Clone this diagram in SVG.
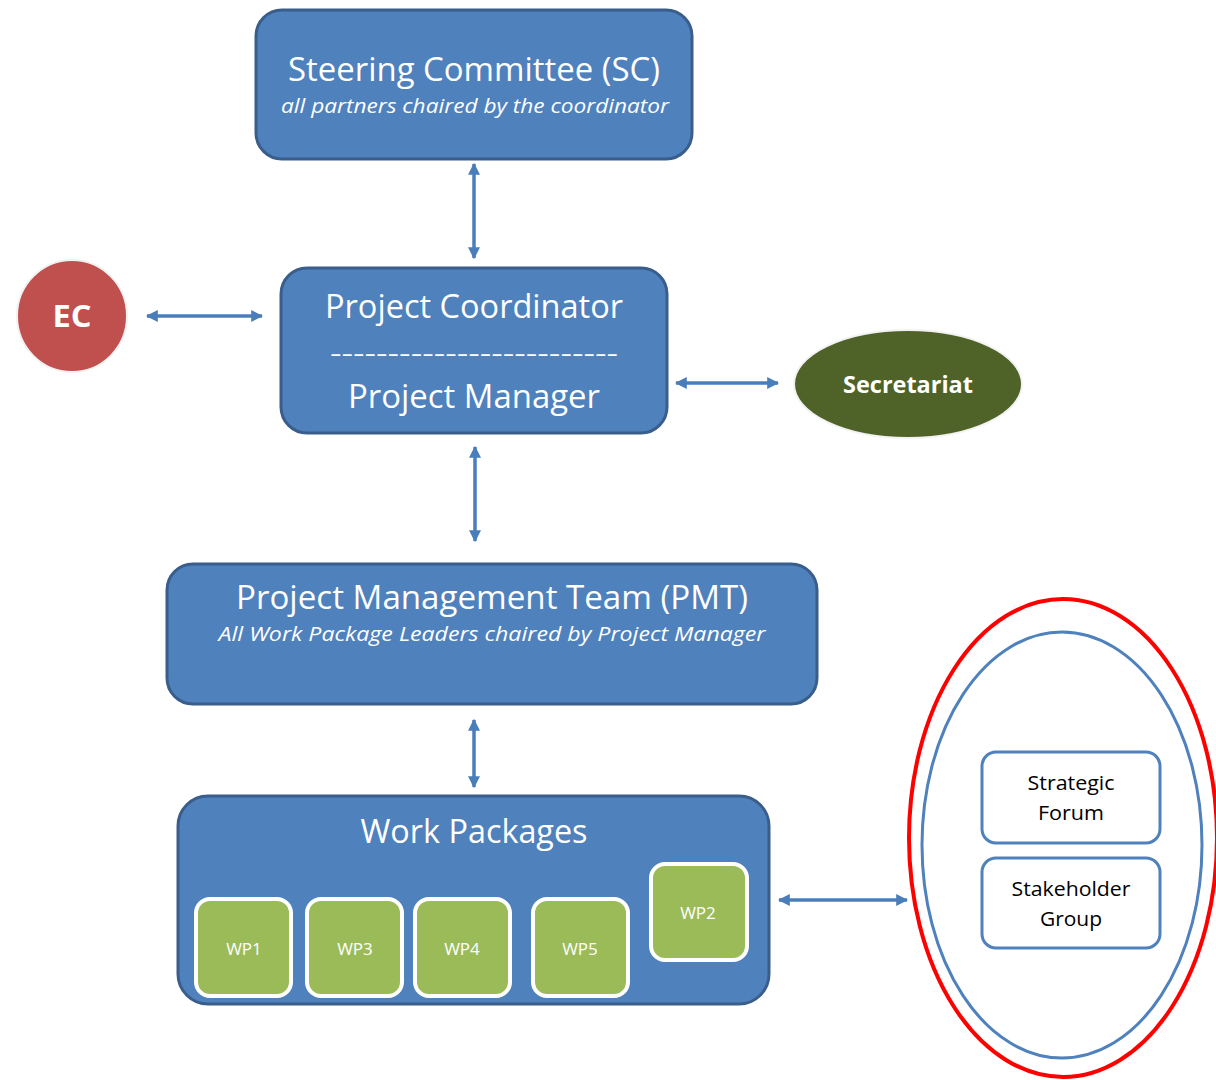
<svg xmlns="http://www.w3.org/2000/svg" width="1216" height="1080" viewBox="0 0 1216 1080">
<defs>
<marker id="ah" viewBox="0 0 10 10" refX="9" refY="5" markerWidth="12" markerHeight="12" markerUnits="userSpaceOnUse" orient="auto-start-reverse">
<path d="M0,0 L10,5 L0,10 Z" fill="#4A7EBB"/>
</marker>
</defs>
<style>
.box{fill:#4F81BD;stroke:#3A5E8C;stroke-width:3}
.wp{fill:#9BBB59;stroke:#FFFFFF;stroke-width:4}
.t{font-family:"Open Sans","Noto Sans","Liberation Sans",sans-serif;fill:#FFFFFF;text-anchor:middle}
.ti{font-family:"Open Sans","Noto Sans","Liberation Sans",sans-serif;fill:#FFFFFF;text-anchor:middle;font-style:italic}
.k{font-family:"Open Sans","Noto Sans","Liberation Sans",sans-serif;fill:#000000;text-anchor:middle;font-size:20px}
.c{stroke:#4A7EBB;stroke-width:3.5;fill:none;marker-start:url(#ah);marker-end:url(#ah)}
.sb{fill:#FFFFFF;stroke:#4F81BD;stroke-width:3}
</style>
<rect width="1216" height="1080" fill="#FFFFFF"/>

<g id="connectors">
<line class="c" x1="474" y1="164" x2="474" y2="258"/>
<line class="c" x1="147" y1="316" x2="262" y2="316"/>
<line class="c" x1="676" y1="383" x2="778" y2="383"/>
<line class="c" x1="475" y1="447" x2="475" y2="541"/>
<line class="c" x1="474" y1="720" x2="474" y2="787"/>
<line class="c" x1="779" y1="900" x2="907" y2="900"/>
</g>

<g id="steering-committee">
<rect class="box" x="256" y="10" width="436" height="149" rx="26"/>
<text class="t" x="474" y="81" font-size="32" textLength="372" lengthAdjust="spacingAndGlyphs">Steering Committee (SC)</text>
<text class="ti" x="475" y="113" font-size="20" textLength="388" lengthAdjust="spacingAndGlyphs">all partners chaired by the coordinator</text>
</g>

<g id="ec">
<ellipse cx="72" cy="316" rx="55" ry="56" fill="#C0504D" stroke="#F2F2F2" stroke-width="2"/>
<text class="t" x="72" y="327" font-size="30" font-weight="bold" textLength="39" lengthAdjust="spacingAndGlyphs">EC</text>
</g>

<g id="project-coordinator">
<rect class="box" x="281" y="268" width="386" height="165" rx="26"/>
<text class="t" x="474" y="318" font-size="32" textLength="298" lengthAdjust="spacingAndGlyphs">Project Coordinator</text>
<text class="t" x="474" y="362" font-size="24" textLength="288" lengthAdjust="spacingAndGlyphs">-------------------------</text>
<text class="t" x="474" y="408" font-size="32" textLength="252" lengthAdjust="spacingAndGlyphs">Project Manager</text>
</g>

<g id="secretariat">
<ellipse cx="908" cy="384" rx="114" ry="54" fill="#4F6228" stroke="#F2F2F2" stroke-width="2"/>
<text class="t" x="908" y="393" font-size="24" font-weight="bold" textLength="130" lengthAdjust="spacingAndGlyphs">Secretariat</text>
</g>

<g id="pmt">
<rect class="box" x="167" y="564" width="650" height="140" rx="26"/>
<text class="t" x="492" y="609" font-size="32" textLength="512" lengthAdjust="spacingAndGlyphs">Project Management Team (PMT)</text>
<text class="ti" x="492" y="641" font-size="20" textLength="547" lengthAdjust="spacingAndGlyphs">All Work Package Leaders chaired by Project Manager</text>
</g>

<g id="work-packages">
<rect class="box" x="178" y="796" width="591" height="208" rx="30"/>
<text class="t" x="474" y="843" font-size="32" textLength="227" lengthAdjust="spacingAndGlyphs">Work Packages</text>
</g>
<g id="wp1">
<rect class="wp" x="196" y="899" width="95" height="97" rx="14"/>
<text class="t" x="244" y="955" font-size="17">WP1</text>
</g>
<g id="wp3">
<rect class="wp" x="307" y="899" width="95" height="97" rx="14"/>
<text class="t" x="355" y="955" font-size="17">WP3</text>
</g>
<g id="wp4">
<rect class="wp" x="415" y="899" width="95" height="97" rx="14"/>
<text class="t" x="462" y="955" font-size="17">WP4</text>
</g>
<g id="wp5">
<rect class="wp" x="533" y="899" width="95" height="97" rx="14"/>
<text class="t" x="580" y="955" font-size="17">WP5</text>
</g>
<g id="wp2">
<rect class="wp" x="651" y="864" width="96" height="96" rx="14"/>
<text class="t" x="698" y="919" font-size="17">WP2</text>
</g>

<g id="stakeholders">
<ellipse cx="1063" cy="838" rx="154" ry="239" fill="none" stroke="#FF0000" stroke-width="4"/>
<ellipse cx="1062" cy="845" rx="140" ry="213" fill="none" stroke="#4F81BD" stroke-width="3"/>
</g>
<g id="strategic-forum">
<rect class="sb" x="982" y="752" width="178" height="91" rx="14"/>
<text class="k" x="1071" y="790" textLength="87" lengthAdjust="spacingAndGlyphs">Strategic</text>
<text class="k" x="1071" y="820" textLength="66" lengthAdjust="spacingAndGlyphs">Forum</text>
</g>
<g id="stakeholder-group">
<rect class="sb" x="982" y="858" width="178" height="90" rx="14"/>
<text class="k" x="1071" y="896" textLength="119" lengthAdjust="spacingAndGlyphs">Stakeholder</text>
<text class="k" x="1071" y="926" textLength="62" lengthAdjust="spacingAndGlyphs">Group</text>
</g>
</svg>
